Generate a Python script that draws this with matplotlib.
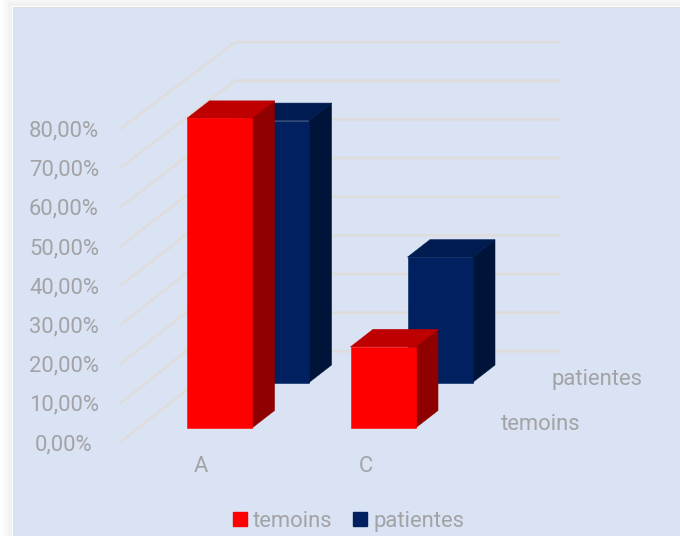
import numpy as np
import matplotlib
matplotlib.use("Agg")
import matplotlib.pyplot as plt
from matplotlib.patches import Polygon, Patch

plt.rcParams['font.family'] = ['Roboto', 'DejaVu Sans']

categories = ['A', 'C']
series_names = ['temoins', 'patientes']
temoins = [79.8, 20.9]
patientes = [67.5, 32.3]
axis_values = [0, 10, 20, 30, 40, 50, 60, 70, 80]

# styling / layout
TEXT = '#A3A3A5'
GRID = '#DEDDDC'
CARD = '#D9E3F3'
colors = {'temoins': ('#FF0000', '#BE0000', '#8F0000'),
          'patientes': ('#002060', '#001B50', '#001338')}
PX_PER_UNIT = 3.88
DEPTH = (22.5, -17.5)
BAR_W = 65
bar_left = {'A': 187, 'C': 350.5}
series_shift = {'temoins': (0, 0), 'patientes': (57, -45.5)}
BASE_Y = 428
FS = 15.85

fig = plt.figure(figsize=(6.8, 5.36), dpi=100)
ax = fig.add_axes([0, 0, 1, 1])
ax.set_xlim(0, 680)
ax.set_ylim(536, 0)
ax.axis('off')

# page + card shadow
xx, yy = np.meshgrid(np.arange(680) + .5, np.arange(536) + .5)
d = np.maximum(12.5 - xx, 6.5 - yy)
bg = np.where(d > 0, 0.925 + 0.075 * np.clip(d / 12.5, 0, 1) ** 0.8, 1.0)
bg = np.where(yy < 6.5, np.maximum(bg, 0.945), bg)
ax.imshow(bg, cmap='gray', vmin=0, vmax=1, extent=(0, 680, 536, 0), aspect='auto', zorder=0)
ax.add_patch(plt.Rectangle((12.5, 6.5), 680, 536, fc=CARD, ec='#E0E0E0', lw=0.8, zorder=1))

# wall grid
for v in axis_values:
    yf = 442.7 - v * 3.92
    yb = 351.3 - v * 3.865
    ax.plot([120, 235, 560], [yf, yb, yb], color=GRID, lw=1.9, zorder=2,
            solid_joinstyle='miter', solid_capstyle='butt')
    ax.text(64, yf + 1.8, f'{v:.2f}%'.replace('.', ','), color=TEXT, fontsize=FS,
            ha='center', va='center', zorder=5)

def draw_bar(cat, name, value, z):
    front, top, side = colors[name]
    sx, sy = series_shift[name]
    x0 = bar_left[cat] + sx
    x1 = x0 + BAR_W
    yb = BASE_Y + sy
    yt = yb - value * PX_PER_UNIT
    dx, dy = DEPTH
    kw = dict(zorder=z, lw=0.4)
    ax.add_patch(Polygon([(x1, yb), (x1 + dx, yb + dy), (x1 + dx, yt + dy), (x1, yt)],
                         fc=side, ec=side, **kw))
    ax.add_patch(Polygon([(x0, yt), (x0 + dx, yt + dy), (x1 + dx, yt + dy), (x1, yt)],
                         fc=top, ec=top, **kw))
    ax.add_patch(Polygon([(x0, yb), (x0, yt), (x1, yt), (x1, yb)],
                         fc=front, ec=front, **kw))

for i, cat in enumerate(categories):
    draw_bar(cat, 'patientes', patientes[i], 3 + i)
for i, cat in enumerate(categories):
    draw_bar(cat, 'temoins', temoins[i], 5 + i)

# category and series labels
for cat, xc in zip(categories, (201, 366)):
    ax.text(xc, 466.5, cat, color=TEXT, fontsize=FS, ha='center', va='center', zorder=8)
ax.text(500.5, 425, series_names[0], color=TEXT, fontsize=FS, ha='left', va='center', zorder=8)
ax.text(551.5, 380, series_names[1], color=TEXT, fontsize=FS, ha='left', va='center', zorder=8)

handles = [Patch(fc=colors[n][0], ec=colors[n][0], label=n) for n in series_names]
leg = ax.legend(handles=handles, ncol=2, frameon=False, loc='center',
                bbox_to_anchor=(348.5, 521.5), bbox_transform=ax.transData,
                fontsize=FS, handlelength=0.62, handleheight=0.62,
                handletextpad=0.28, columnspacing=0.95, borderpad=0, labelcolor=TEXT)
leg.set_zorder(9)

fig.savefig('out.png', dpi=100)
